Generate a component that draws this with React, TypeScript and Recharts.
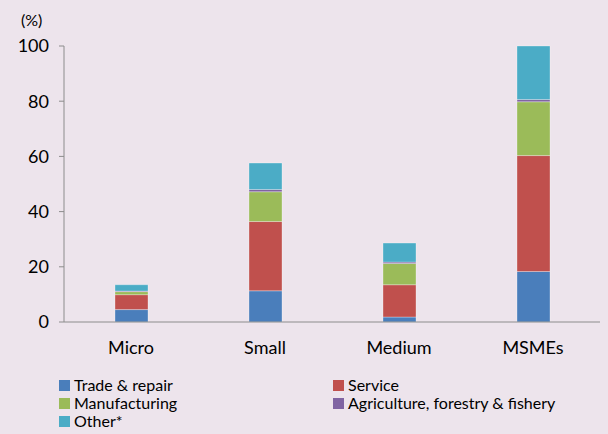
import { BarChart, Bar, XAxis, YAxis, Legend } from "recharts";

const categories = ["Micro", "Small", "Medium", "MSMEs"];
const tradeRepair = [4.5, 11.3, 1.8, 18.3];
const service = [5.4, 25.1, 11.7, 42.0];
const manufacturing = [1.1, 10.8, 7.7, 19.5];
const agriculture = [0.2, 0.8, 0.5, 0.8];
const other = [2.3, 9.6, 6.9, 19.4];
const yTicks = [0, 20, 40, 60, 80, 100];

const seriesNames = [
  "Trade & repair",
  "Service",
  "Manufacturing",
  "Agriculture, forestry & fishery",
  "Other*",
];
const seriesColors = ["#4a7ebb", "#c0504d", "#9bbb59", "#8064a2", "#4bacc6"];

const data = categories.map((name, i) => ({
  name,
  s0: tradeRepair[i],
  s1: service[i],
  s2: manufacturing[i],
  s3: agriculture[i],
  s4: other[i],
}));

const font = "Lato, 'Open Sans', sans-serif";

function LegendGrid() {
  return (
    <div
      style={{
        display: "grid",
        gridTemplateColumns: "274px 270px",
        fontFamily: font,
        fontSize: 16,
        color: "#000",
        lineHeight: "18px",
      }}
    >
      {seriesNames.map((n, i) => (
        <div key={n} style={{ display: "flex", alignItems: "center", height: 18 }}>
          <span
            style={{
              width: 11,
              height: 11,
              background: seriesColors[i],
              display: "inline-block",
              marginRight: 4,
            }}
          />
          {n}
        </div>
      ))}
    </div>
  );
}

export default function App() {
  return (
    <div
      style={{
        position: "absolute",
        left: 0,
        top: 0,
        width: 608,
        height: 434,
        background: "#ede4ec",
        overflow: "hidden",
      }}
    >
      <div
        style={{
          position: "absolute",
          left: 21,
          top: 10,
          fontFamily: font,
          fontSize: 16,
        }}
      >
        (%)
      </div>
      <BarChart
        width={608}
        height={434}
        data={data}
        margin={{ top: 46, right: 8, left: 0, bottom: 28 }}
        barCategoryGap={0}
      >
        <XAxis
          dataKey="name"
          tickLine={false}
          axisLine={{ stroke: "#8c8c8c" }}
          tick={{ fill: "#000", fontFamily: font, fontSize: 18 }}
          tickMargin={13}
          height={30}
        />
        <YAxis
          width={64}
          domain={[0, 100]}
          ticks={yTicks}
          axisLine={{ stroke: "#8c8c8c" }}
          tickLine={{ stroke: "#8c8c8c" }}
          tickSize={5}
          tickMargin={10}
          tick={{ fill: "#000", fontFamily: font, fontSize: 18 }}
        />
        <Legend
          content={() => <LegendGrid />}
          wrapperStyle={{ position: "absolute", left: 59, top: 376, width: 545 }}
        />
        {seriesNames.map((n, i) => (
          <Bar
            key={n}
            dataKey={`s${i}`}
            name={n}
            stackId="a"
            fill={seriesColors[i]}
            stroke="#ffffff"
            strokeOpacity={0.3}
            barSize={33}
            isAnimationActive={false}
          />
        ))}
      </BarChart>
    </div>
  );
}
